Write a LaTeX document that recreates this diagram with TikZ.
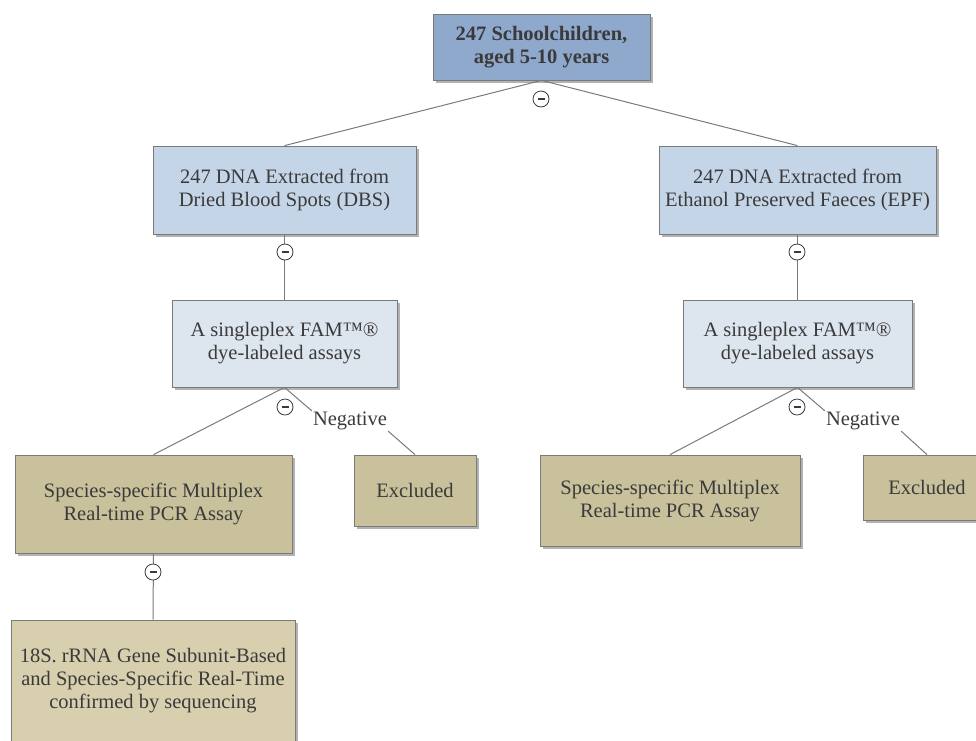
\documentclass[tikz,border=0pt]{standalone}
\usepackage{fontspec}
\setmainfont{Liberation Serif}
\usetikzlibrary{positioning, shadows}
\definecolor{rootblue}{HTML}{8FA9CC}
\definecolor{dnablue}{HTML}{C5D5E8}
\definecolor{assayblue}{HTML}{DDE5EF}
\definecolor{pcrtan}{HTML}{C9C19C}
\definecolor{seqtan}{HTML}{D8CFAF}
\definecolor{edgegray}{HTML}{7A7A7A}
\definecolor{inkgray}{HTML}{3A3A3A}

\tikzset{
  box/.style={draw=edgegray, line width=0.8pt, fill=#1, align=center, text=inkgray,
    font=\fontsize{20.5}{23}\selectfont, inner sep=0pt,
    drop shadow={shadow xshift=2.5pt, shadow yshift=-2.5pt, fill=black, opacity=0.3}},
  link/.style={draw=edgegray, line width=1pt},
  toggle/.style={circle, draw=inkgray, line width=0.8pt, fill=white, minimum size=16pt, inner sep=0pt,
    path picture={\draw[inkgray, line width=1.2pt] ([xshift=-3.5pt]path picture bounding box.center) -- ([xshift=3.5pt]path picture bounding box.center);}},
  neglabel/.style={text=inkgray, font=\fontsize{20.5}{23}\selectfont, inner sep=1pt}
}

\begin{document}
\begin{tikzpicture}[x=1pt, y=-1pt]
  \useasboundingbox (0,0) rectangle (976,740);
  \clip (0,0) rectangle (976,740);

  % root and the two extraction routes
  \node[box=rootblue, minimum width=217pt, minimum height=66pt, font=\fontsize{20.5}{23}\selectfont\bfseries]
    (root) at (541.5,47) {247 Schoolchildren,\\aged 5-10 years};
  \node[box=dnablue, minimum width=263pt, minimum height=88pt] (dbs) at (284.5,190)
    {247 DNA Extracted from\\Dried Blood Spots (DBS)};
  \node[box=dnablue, minimum width=277pt, minimum height=88pt] (epf) at (797.5,190)
    {247 DNA Extracted from\\Ethanol Preserved Faeces (EPF)};

  % singleplex screening
  \node[box=assayblue, minimum width=225pt, minimum height=87pt] (famL) at (284.5,343.5)
    {A singleplex FAM™®\\dye-labeled assays};
  \node[box=assayblue, minimum width=229pt, minimum height=87pt] (famR) at (797.5,343.5)
    {A singleplex FAM™®\\dye-labeled assays};

  % multiplex and excluded
  \node[box=pcrtan, minimum width=277pt, minimum height=98pt] (pcrL) at (153.5,504)
    {Species-specific Multiplex\\Real-time PCR Assay};
  \node[box=pcrtan, minimum width=122pt, minimum height=71pt] (exL) at (415,490.5) {Excluded};
  \node[box=pcrtan, minimum width=260pt, minimum height=91pt] (pcrR) at (670,500.5)
    {Species-specific Multiplex\\Real-time PCR Assay};
  \node[box=pcrtan, minimum width=128pt, minimum height=65pt] (exR) at (927,487.5) {Excluded};

  % confirmation
  \node[box=seqtan, minimum width=284pt, minimum height=122pt] (seq) at (153,681)
    {18S. rRNA Gene Subunit-Based\\and Species-Specific Real-Time\\confirmed by sequencing};

  % connectors
  \draw[link] (root.south) -- (dbs.north);
  \draw[link] (root.south) -- (epf.north);
  \draw[link] (dbs.south) -- (famL.north);
  \draw[link] (epf.south) -- (famR.north);
  \draw[link] (famL.south) -- (pcrL.north);
  \draw[link] (famR.south) -- (pcrR.north);
  \draw[link] (pcrL.south) -- (seq.north);

  \node[neglabel] (negL) at (350,421) {Negative};
  \node[neglabel] (negR) at (863,421) {Negative};
  \draw[link] (famL.south) -- (negL.north west);
  \draw[link] (negL.south east) -- (exL.north);
  \draw[link] (famR.south) -- (negR.north west);
  \draw[link] (negR.south east) -- (exR.north);

  % collapse toggles
  \node[toggle] (t0) at (541,99) {};
  \node[toggle] (t1) at (285,252) {};
  \node[toggle] (t2) at (797,252) {};
  \node[toggle] (t3) at (285,407) {};
  \node[toggle] (t4) at (797,407) {};
  \node[toggle] (t5) at (153,572) {};
\end{tikzpicture}
\end{document}
